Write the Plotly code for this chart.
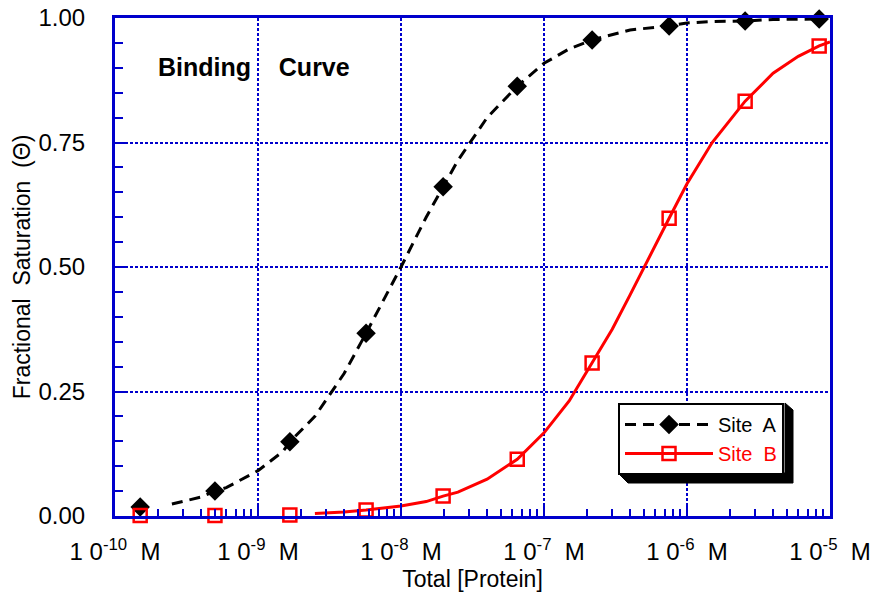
import plotly.graph_objects as go

# ---- data ----
conc_markers = [1.5e-10, 5.0e-10, 1.67e-9, 5.7e-9, 1.97e-8, 6.5e-8, 2.17e-7, 7.5e-7, 2.55e-6, 8.4e-6]
siteA_markers = [0.018, 0.050, 0.149, 0.367, 0.661, 0.863, 0.956, 0.984, 0.994, 0.998]
siteB_markers = [0.001, 0.001, 0.002, 0.012, 0.040, 0.114, 0.307, 0.598, 0.833, 0.944]

conc_curveA = [2.5e-10, 4e-10, 6e-10, 1e-9, 1.5e-9, 2.5e-9, 4e-9, 1e-8,
               1.5e-8, 2.5e-8, 4e-8, 1e-7, 1.5e-7, 4e-7, 1e-6,
               1.5e-6, 4e-6, 6e-6]
siteA_curve = [0.024, 0.038, 0.057, 0.091, 0.130, 0.200, 0.286, 0.500,
               0.600, 0.714, 0.800, 0.909, 0.938, 0.976, 0.990,
               0.993, 0.997, 0.998]

conc_curveB = [2.5e-9, 4e-9, 1e-8, 1.5e-8, 2.5e-8, 4e-8, 1e-7, 1.5e-7,
               3e-7, 4e-7, 6e-7, 1e-6, 1.5e-6, 4e-6, 6e-6, 1e-5]
siteB_curve = [0.005, 0.008, 0.020, 0.029, 0.048, 0.074, 0.167, 0.231,
               0.375, 0.444, 0.545, 0.667, 0.750, 0.889, 0.923, 0.952]

x_tickvals = [1e-10, 1e-9, 1e-8, 1e-7, 1e-6, 1e-5]
x_ticktext = ["1 0<sup>-10</sup>  M", "1 0<sup>-9</sup>  M", "1 0<sup>-8</sup>  M",
              "1 0<sup>-7</sup>  M", "1 0<sup>-6</sup>  M", "1 0<sup>-5</sup>  M"]
x_minor_vals = [m * 10.0 ** e for e in range(-10, -5) for m in range(2, 10)]
y_tickvals = [0, 0.25, 0.5, 0.75, 1.0]
y_ticktext = ["0.00", "0.25", "0.50", "0.75", "1.00"]

BLUE = "#0000cc"
FONT = "Liberation Sans"
CLEAR = "rgba(0,0,0,0)"


def merge(cx, cy, mx, my, color):
    """Combine curve samples and data markers into one series; markers visible only at data points."""
    pts = [(x, y, False) for x, y in zip(cx, cy)] + [(x, y, True) for x, y in zip(mx, my)]
    pts.sort(key=lambda p: p[0])
    start = cx[0]
    xs, ys, cols = [], [], []
    for x, y, is_m in pts:
        xs.append(x)
        ys.append(y)
        cols.append(color if is_m else CLEAR)
        if x < start:  # isolated markers before the fitted curve begins
            xs.append(x)
            ys.append(None)
            cols.append(CLEAR)
    return xs, ys, cols


ax, ay, ac = merge(conc_curveA, siteA_curve, conc_markers, siteA_markers, "black")
bx, by, bc = merge(conc_curveB, siteB_curve, conc_markers, siteB_markers, "red")

fig = go.Figure()
fig.add_trace(go.Scatter(x=ax, y=ay, mode="lines+markers", name="Site&nbsp; A",
                         line=dict(color="black", width=3, dash="11px,7px"),
                         marker=dict(symbol="diamond", size=15, color=ac),
                         connectgaps=False, cliponaxis=False))
fig.add_trace(go.Scatter(x=bx, y=by, mode="lines+markers",
                         name="<span style='color:red'>Site&nbsp; B</span>",
                         line=dict(color="red", width=3),
                         marker=dict(symbol="square-open", size=13, color=bc,
                                     line=dict(width=2.5, color=bc)),
                         connectgaps=False, cliponaxis=False))

W, H = 868, 584  # page body adds an 8 px offset
L, T = 107, 10
PW, PH = 715, 498
fig.update_layout(
    width=W, height=H,
    margin=dict(l=L, r=W - L - PW, t=T, b=H - T - PH, autoexpand=False),
    paper_bgcolor="white", plot_bgcolor="white",
    font=dict(family=FONT, size=22, color="black"),
    showlegend=True,
    legend=dict(x=(618 - 115) / PW, y=(516 - 403) / PH, xanchor="left", yanchor="top",
                bgcolor="white", bordercolor="black", borderwidth=2,
                font=dict(size=20), itemwidth=88, tracegroupgap=0),
)

fig.add_annotation(text="<b>Binding&nbsp;&nbsp;&nbsp;&nbsp;Curve</b>", xref="paper", yref="paper",
                   x=(254 - 115) / PW, y=(516 - 67) / PH, showarrow=False,
                   xanchor="center", yanchor="middle",
                   font=dict(size=25, family=FONT, color="black"))


def px(xp):
    return (xp - 115) / PW


def py(yp):
    return (516 - yp) / PH


shadow = (f"M {px(618)},{py(473)} L {px(628)},{py(483)} L {px(793)},{py(483)} "
          f"L {px(793)},{py(410)} L {px(785)},{py(403)} L {px(785)},{py(473)} Z")
fig.add_shape(type="path", path=shadow, xref="paper", yref="paper",
              fillcolor="black", line=dict(color="black", width=1), layer="above")

fig.update_xaxes(type="log", range=[-10, -5], automargin=False,
                 tickmode="array", tickvals=x_tickvals, ticktext=x_ticktext,
                 ticks="inside", ticklen=12, tickwidth=2, tickcolor=BLUE,
                 showline=True, linecolor=BLUE, linewidth=3, mirror=True,
                 showgrid=True, gridcolor=BLUE, gridwidth=2, griddash="3px,2px",
                 zeroline=False, ticklabelstandoff=12, ticklabeloverflow="allow",
                 tickfont=dict(size=24),
                 minor=dict(tickmode="array", tickvals=x_minor_vals, ticks="inside",
                            ticklen=7, tickwidth=2, tickcolor=BLUE, showgrid=False),
                 title=dict(text="Total [Protein]", font=dict(size=23), standoff=9))
fig.update_yaxes(range=[0, 1], automargin=False,
                 tickmode="array", tickvals=y_tickvals, ticktext=y_ticktext,
                 ticks="inside", ticklen=12, tickwidth=2, tickcolor=BLUE,
                 showline=True, linecolor=BLUE, linewidth=3, mirror=True,
                 showgrid=True, gridcolor=BLUE, gridwidth=2, griddash="3px,2px",
                 zeroline=False, ticklabelstandoff=22, ticklabeloverflow="allow",
                 tickfont=dict(size=24),
                 minor=dict(dtick=0.05, ticks="inside", ticklen=8, tickwidth=2,
                            tickcolor=BLUE, showgrid=False),
                 title=dict(text="Fractional&nbsp; Saturation&nbsp; (Θ)", font=dict(size=23),
                            standoff=2))

fig.write_html("out.html")
